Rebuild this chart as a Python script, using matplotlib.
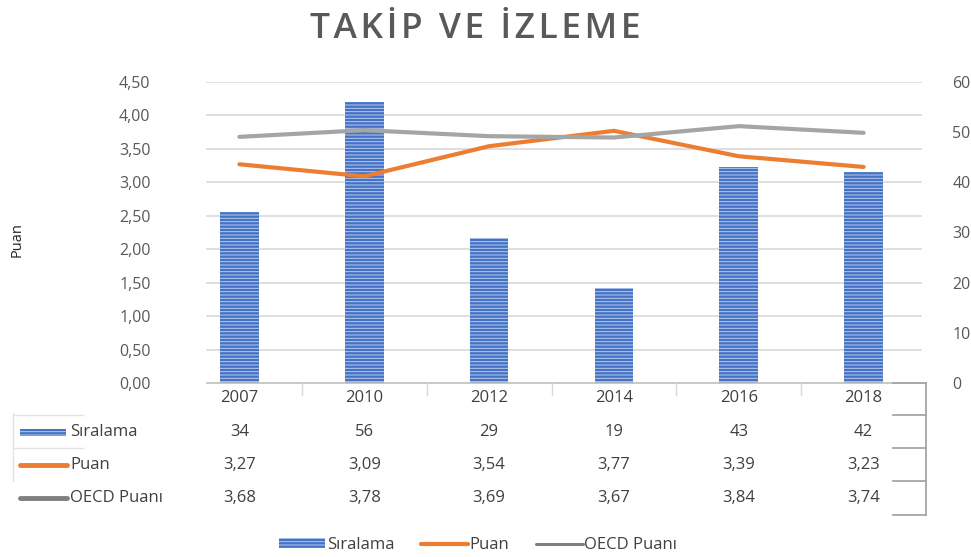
import matplotlib
matplotlib.use("Agg")
import matplotlib.pyplot as plt
import matplotlib.transforms as mtransforms
from matplotlib.patches import Rectangle
from matplotlib.lines import Line2D

plt.rcParams["font.family"] = ["Open Sans", "DejaVu Sans"]
plt.rcParams["hatch.linewidth"] = 0.7

# =====================
# DATA
# =====================
years = ["2007", "2010", "2012", "2014", "2016", "2018"]
siralama = [34, 56, 29, 19, 43, 42]
puan = [3.27, 3.09, 3.54, 3.77, 3.39, 3.23]
oecd = [3.68, 3.78, 3.69, 3.67, 3.84, 3.74]
left_ticks = [0, 0.5, 1, 1.5, 2, 2.5, 3, 3.5, 4, 4.5]
right_ticks = [0, 10, 20, 30, 40, 50, 60]

BLUE = "#4472C4"
STRIPE = "#B8CBEC"
ORANGE = "#ED7D31"
GRAY = "#A5A5A5"
TXT = "#595959"
W, H = 971, 557


def fx(x):
    return x / W


def fy(y):
    return 1 - y / H


fig = plt.figure(figsize=(W / 100, H / 100), dpi=100)
ax = fig.add_axes([fx(177), fy(383), fx(926) - fx(177), fy(82) - fy(383)])
ax2 = ax.twinx()

x = list(range(len(years)))

# bars on main axis (right-hand scale), lines on twin axis (left-hand scale)
ax.bar(x, siralama, width=0.31, color=BLUE, edgecolor=STRIPE, linewidth=0,
       hatch="-----", zorder=2, label="Sıralama")
ax.set_ylim(0, 60)
ax.set_xlim(-0.5, len(years) - 0.5)
ax.yaxis.tick_right()
ax.set_yticks(right_ticks)
ax.set_yticklabels([str(t) for t in right_ticks])

ax2.plot(x, puan, color=ORANGE, lw=3.0, solid_capstyle="round", label="Puan")
ax2.plot(x, oecd, color=GRAY, lw=3.0, solid_capstyle="round", label="OECD Puanı")
ax2.set_ylim(0, 4.5)
ax2.yaxis.tick_left()
ax2.set_yticks(left_ticks)
ax2.set_yticklabels([f"{t:.2f}".replace(".", ",") for t in left_ticks])

# gridlines follow the left scale, drawn behind the bars
for t in left_ticks[1:]:
    ax.axhline(t * 60 / 4.5, xmin=0.04, xmax=0.993, color="#D9D9D9", lw=1.2, zorder=0)

for a in (ax, ax2):
    for s in a.spines.values():
        s.set_visible(False)
    a.tick_params(length=0, labelsize=11.5, labelcolor=TXT)
    a.set_xticks([])
ax.tick_params(axis="y", pad=19)
ax2.tick_params(axis="y", pad=19)

# axis line
ax.plot([0.04, 0.993], [0, 0], transform=ax.transAxes, color="#BFBFBF", lw=1.2, clip_on=False)

fig.text(fx(17), fy(240), "Puan", rotation=90, ha="center", va="center", fontsize=10.5, color="#262626")

fig.text(fx(475), fy(29), "\u200a".join("TAKİP VE İZLEME"), ha="center", va="center",
         fontsize=25.5, fontweight="semibold", color=TXT)

# =====================
# DATA TABLE
# =====================
tr = mtransforms.blended_transform_factory(ax.transData, fig.transFigure)
rows = [
    (398, years),
    (432, [str(v) for v in siralama]),
    (465, [f"{v:.2f}".replace(".", ",") for v in puan]),
    (498, [f"{v:.2f}".replace(".", ",") for v in oecd]),
]
for py, vals in rows:
    for i, v in enumerate(vals):
        ax.text(i, fy(py), v, transform=tr, ha="center", va="center",
                fontsize=12, color="#404040", clip_on=False)

# faint category separators under the axis
for i in range(1, len(years)):
    ax.add_line(Line2D([i - 0.5, i - 0.5], [fy(383), fy(395)], transform=tr,
                       color="#D9D9D9", lw=1, clip_on=False))

# right bracket
for py in [383, 415, 448, 481, 515]:
    fig.add_artist(Line2D([fx(893), fx(926)], [fy(py), fy(py)], color="#A6A6A6", lw=1.3))
fig.add_artist(Line2D([fx(926), fx(926)], [fy(383), fy(515)], color="#A6A6A6", lw=1.3))

# left legend column
for py in [415, 448]:
    fig.add_artist(Line2D([fx(13), fx(83)], [fy(py), fy(py)], color="#E3E3E3", lw=1))
fig.add_artist(Line2D([fx(13), fx(13)], [fy(413), fy(481)], color="#E3E3E3", lw=1))

fig.add_artist(Rectangle((fx(20), fy(436)), fx(46), fy(429) - fy(436), facecolor=BLUE,
                         edgecolor=STRIPE, linewidth=0, hatch="-----"))
fig.add_artist(Line2D([fx(20), fx(67)], [fy(465), fy(465)], color=ORANGE, lw=3.5, solid_capstyle="round"))
fig.add_artist(Line2D([fx(20), fx(67)], [fy(498), fy(498)], color="#7F7F7F", lw=3.5, solid_capstyle="round"))
for py, lab in [(432, "Sıralama"), (465, "Puan"), (498, "OECD Puanı")]:
    fig.text(fx(70), fy(py), lab, ha="left", va="center", fontsize=12, color="#404040")

# =====================
# BOTTOM LEGEND
# =====================
h1, l1 = ax.get_legend_handles_labels()
h2, l2 = ax2.get_legend_handles_labels()
leg = fig.legend(h1 + h2, l1 + l2, loc="center", bbox_to_anchor=(fx(478), fy(545)),
                 ncol=3, frameon=False, fontsize=12, handlelength=2.8, handleheight=0.5,
                 columnspacing=1.6, handletextpad=0.1, labelcolor="#404040")
leg.legend_handles[2].set_color("#7F7F7F")
leg.legend_handles[2].set_linewidth(2.2)

fig.savefig("out.png", dpi=100)
